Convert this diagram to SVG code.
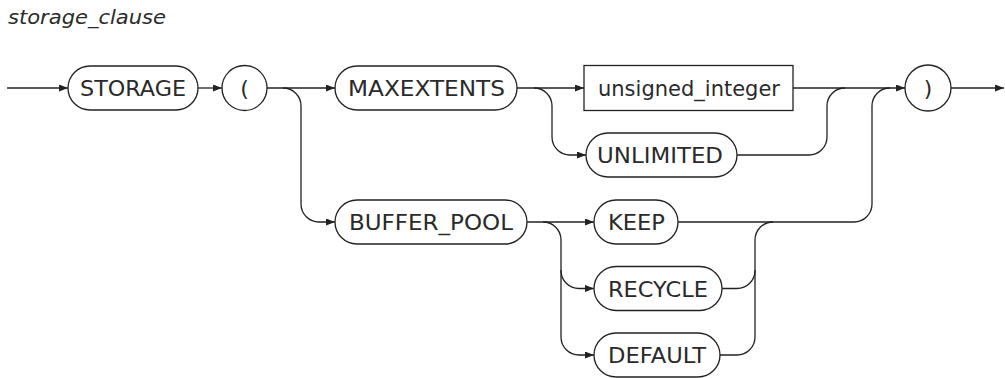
<svg xmlns="http://www.w3.org/2000/svg" width="1005" height="378" viewBox="0 0 1005 378">
  <defs>
    <marker id="arrow" markerUnits="userSpaceOnUse" markerWidth="10" markerHeight="8" refX="9" refY="3.5" orient="auto">
      <path d="M0,0 L9,3.5 L0,7 Z" fill="#222"/>
    </marker>
  </defs>
  <style>
    .term { fill: #fff; stroke: #222; stroke-width: 1.3; }
    .label { font-family: "DejaVu Sans", "Liberation Sans", sans-serif; font-size: 22px; fill: #2a2a2a; text-anchor: middle; }
    .title { font-family: "DejaVu Sans", "Liberation Sans", sans-serif; font-size: 20px; font-style: italic; fill: #2a2a2a; }
    .wire { fill: none; stroke: #222; stroke-width: 1.3; }
    .arr { marker-end: url(#arrow); }
  </style>

  <rect width="1005" height="378" fill="#fff"/>

  <text class="title" x="8" y="24" textLength="158" lengthAdjust="spacingAndGlyphs">storage_clause</text>

  <!-- connectors -->
  <g id="connectors">
    <path class="wire arr" d="M7,88 H68"/>
    <path class="wire arr" d="M198,88 H222"/>
    <path class="wire arr" d="M267,88 H335"/>
    <path class="wire arr" d="M283,88 A18,18 0 0 1 301,106 V204 A18,18 0 0 0 319,222 H335"/>
    <path class="wire arr" d="M517,88 H584"/>
    <path class="wire arr" d="M534,88 A18,18 0 0 1 552,106 V137 A18,18 0 0 0 570,155 H586"/>
    <path class="wire arr" d="M793,88 H905"/>
    <path class="wire" d="M737,155 H809 A18,18 0 0 0 827,137 V106 A18,18 0 0 1 845,88"/>
    <path class="wire arr" d="M527,222 H594"/>
    <path class="wire arr" d="M543,222 A18,18 0 0 1 561,240 V270.5 A18,18 0 0 0 579,288.5 H594"/>
    <path class="wire arr" d="M561,270 V337 A18,18 0 0 0 579,355 H594"/>
    <path class="wire" d="M678,222 H854 A18,18 0 0 0 872,204 V106 A18,18 0 0 1 890,88"/>
    <path class="wire" d="M722,288.5 H737 A18,18 0 0 0 755,270.5 V240 A18,18 0 0 1 773,222"/>
    <path class="wire" d="M720,355 H737 A18,18 0 0 0 755,337 V270"/>
    <path class="wire arr" d="M951,88 H1004"/>
  </g>

  <g id="storage">
    <rect class="term" x="68" y="66" width="130" height="44" rx="22"/>
    <text class="label" x="133" y="96" textLength="106" lengthAdjust="spacingAndGlyphs">STORAGE</text>
  </g>
  <g id="lparen">
    <circle class="term" cx="244.5" cy="88" r="22.5"/>
    <text class="label" x="244.5" y="96">(</text>
  </g>
  <g id="maxextents">
    <rect class="term" x="335" y="66" width="182" height="44" rx="22"/>
    <text class="label" x="426.5" y="96" textLength="157" lengthAdjust="spacingAndGlyphs">MAXEXTENTS</text>
  </g>
  <g id="unsigned_integer">
    <rect class="term" x="584" y="65.5" width="209" height="45"/>
    <text class="label" x="689" y="96" textLength="182" lengthAdjust="spacingAndGlyphs">unsigned_integer</text>
  </g>
  <g id="unlimited">
    <rect class="term" x="586" y="133" width="151" height="44" rx="22"/>
    <text class="label" x="660" y="163" textLength="126" lengthAdjust="spacingAndGlyphs">UNLIMITED</text>
  </g>
  <g id="rparen">
    <circle class="term" cx="928" cy="88" r="23"/>
    <text class="label" x="928" y="96">)</text>
  </g>
  <g id="buffer_pool">
    <rect class="term" x="335" y="200" width="192" height="44" rx="22"/>
    <text class="label" x="431" y="230" textLength="164" lengthAdjust="spacingAndGlyphs">BUFFER_POOL</text>
  </g>
  <g id="keep">
    <rect class="term" x="594" y="200" width="84" height="44" rx="22"/>
    <text class="label" x="636.5" y="230" textLength="57" lengthAdjust="spacingAndGlyphs">KEEP</text>
  </g>
  <g id="recycle">
    <rect class="term" x="594" y="266.5" width="128" height="44" rx="22"/>
    <text class="label" x="658" y="296.5" textLength="100" lengthAdjust="spacingAndGlyphs">RECYCLE</text>
  </g>
  <g id="default">
    <rect class="term" x="594" y="333" width="126" height="44" rx="22"/>
    <text class="label" x="657" y="363" textLength="98" lengthAdjust="spacingAndGlyphs">DEFAULT</text>
  </g>
</svg>
